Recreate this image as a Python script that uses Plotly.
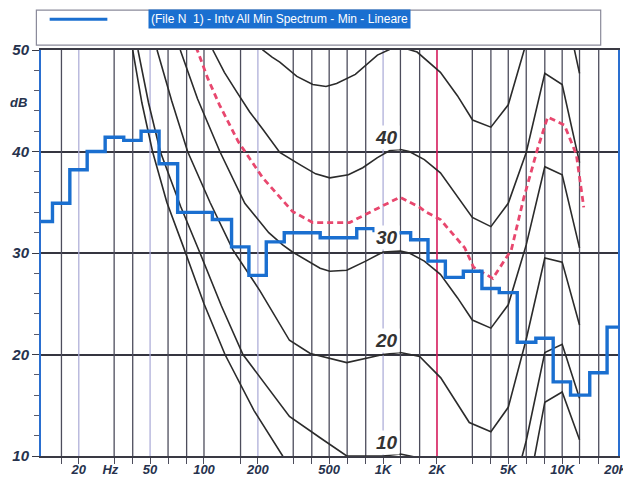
import math
import plotly.graph_objects as go

# ---------------- data ----------------
bands = [12.5, 16, 20, 25, 31.5, 40, 50, 63, 80, 100, 125, 160, 200, 250, 315, 400, 500,
         630, 800, 1000, 1250, 1600, 2000, 2500, 3150, 4000, 5000, 6300, 8000, 10000,
         12500, 16000, 20000]
spectrum_min = [33.1, 34.9, 38.2, 40.0, 41.4, 41.1, 42.0, 38.8, 34.0, 34.0, 33.3, 30.6, 27.8,
                31.1, 32.0, 32.0, 31.5, 31.5, 32.4, 32.2, 32.0, 31.3, 29.2, 27.6, 28.2, 26.5,
                26.1, 21.2, 21.6, 17.3, 16.0, 18.2, 22.7]

curve50_f = [190, 213, 240, 265, 330, 405, 480, 550, 700, 930, 1200, 1550, 2090, 2600, 3160,
             4000, 5000, 6300, 8000, 10000, 12500]
curve50_db = [51.6, 50.0, 49.3, 48.8, 47.4, 46.6, 46.4, 46.7, 47.6, 49.5, 50.4, 49.8, 47.8,
              45.5, 43.1, 42.4, 44.6, 50.5, 57.0, 55.6, 47.7]

curve40_f = [112, 130, 152, 180, 213, 265, 343, 420, 504, 640, 770, 930, 1090, 1250, 1400,
             1700, 2090, 2600, 3150, 4000, 5000, 6300, 8000, 10000, 12500]
curve40_db = [50.0, 47.8, 45.9, 43.9, 42.2, 39.9, 38.7, 37.8, 37.4, 37.7, 38.4, 39.4, 40.1,
              40.2, 40.0, 39.2, 37.9, 35.6, 33.5, 32.6, 34.9, 39.9, 47.7, 46.6, 38.9]

curve30_f = [73.7, 92, 122.6, 169, 230, 275, 312, 445, 504, 627, 800, 1000, 1250, 1400, 1700,
             2090, 2600, 3150, 4000, 5000, 6300, 8000, 10000, 12500]
curve30_db = [50.0, 45.2, 40.0, 34.9, 32.0, 30.8, 30.1, 28.5, 28.2, 28.3, 29.2, 30.1, 30.2,
              30.0, 29.2, 27.9, 25.6, 23.4, 22.6, 24.9, 30.8, 38.5, 37.7, 30.5]

curve20_f = [54.7, 66, 81, 108, 145, 205, 300, 392, 627, 1000, 1250, 1600, 2100, 3030, 4000,
             5000, 6300, 8000, 10000, 12500]
curve20_db = [50.0, 45.0, 40.0, 35.0, 30.3, 26.3, 21.4, 20.1, 19.2, 20.0, 20.2, 19.8, 17.7,
              13.3, 12.4, 14.8, 21.5, 29.5, 29.1, 22.9]

curve10_f = [42.8, 49, 57, 74, 95, 125, 165, 300, 445, 627, 1000, 1250, 1600, 2100, 3000,
             4000, 5000, 6300, 8000, 10000, 12500]
curve10_db = [50.0, 44.8, 40.0, 34.6, 30.0, 24.8, 20.0, 13.9, 11.8, 10.0, 10.0, 10.2, 9.8,
              7.7, 3.3, 2.4, 4.8, 11.5, 20.2, 21.0, 15.7]

curve0_f = [40, 45, 51.6, 62, 76, 100, 131, 190, 275, 400, 627, 1000, 2000, 4000, 5000, 6300,
            8000, 10000, 12500]
curve0_db = [50.0, 44.8, 40.0, 35.0, 30.8, 25.0, 20.0, 14.5, 10.0, 6.0, 0.0, 0.0, -2.0, -7.6,
             -5.2, 5.6, 15.3, 16.3, 11.6]

limit_f = [90, 92.6, 105, 122, 155, 213, 312, 405, 650, 880, 1240, 1600, 1750, 2090, 2860,
           3200, 4100, 5200, 6100, 7300, 8300, 10300, 11100, 12000, 13200]
limit_db = [50.3, 49.8, 47.2, 44.6, 41.0, 37.4, 34.1, 33.0, 33.0, 34.2, 35.5, 34.5, 34.0, 33.3,
            30.5, 28.6, 27.5, 30.3, 35.4, 40.3, 43.4, 42.6, 41.1, 39.7, 34.5]

curve_labels = ["40", "30", "20", "10"]
curve_label_db = [41.4, 31.5, 21.4, 11.3]
curve_label_f = 1050

grid_dark = [16, 31.5, 40, 63, 80, 100, 160, 315, 400, 500, 630, 800, 1250, 1600, 3150,
             4000, 5000, 6300, 8000, 10000, 12500, 16000]
grid_light = [20, 50, 200, 1000]
grid_red = [2000]

tick_vals = [20, 30, 50, 100, 200, 500, 1000, 2000, 5000, 10000, 20000]
tick_text = ["20", "Hz", "50", "100", "200", "500", "1K", "2K", "5K", "10K", "20K"]
y_ticks = [10, 20, 30, 40, 50]

legend_text = "(File N  1) - Intv All Min Spectrum - Min - Lineare"

# ---------------- figure ----------------
fig = go.Figure()


def vlines(freqs):
    xs, ys = [], []
    for f in freqs:
        xs += [f, f, None]
        ys += [10, 50, None]
    return xs, ys


for freqs, col, w in [(grid_light, "#a9a9d6", 1.2), (grid_dark, "#4d4d5c", 1.3),
                      (grid_red, "#d61a5c", 1.6)]:
    xs, ys = vlines(freqs)
    fig.add_trace(go.Scatter(x=xs, y=ys, mode="lines", line=dict(color=col, width=w),
                             hoverinfo="skip", showlegend=False))

for fx, fy in [(curve50_f, curve50_db), (curve40_f, curve40_db), (curve30_f, curve30_db),
               (curve20_f, curve20_db), (curve10_f, curve10_db), (curve0_f, curve0_db)]:
    fig.add_trace(go.Scatter(x=fx, y=fy, mode="lines",
                             line=dict(color="#2b2b2b", width=1.6),
                             hoverinfo="skip", showlegend=False))

fig.add_trace(go.Scatter(x=limit_f, y=limit_db, mode="lines",
                         line=dict(color="#e8476e", width=2.8, dash="6px,4px"),
                         hoverinfo="skip", showlegend=False))

# step spectrum: each band spans its 1/3-octave edges
step_x = [f * 2 ** (-1 / 6) for f in bands] + [bands[-1] * 2 ** (1 / 6)]
step_y = spectrum_min + [spectrum_min[-1]]
fig.add_trace(go.Scatter(x=step_x, y=step_y, mode="lines", line_shape="hv",
                         line=dict(color="#1a6fd0", width=3.4),
                         name=legend_text, showlegend=False))

annotations = []
for t, yv in zip(curve_labels, curve_label_db):
    annotations.append(dict(x=math.log10(curve_label_f), y=yv, xref="x", yref="y", text=t,
                            showarrow=False, bgcolor="white",
                            font=dict(family="Liberation Sans, Arial", size=19, color="#333333",
                                      weight="bold", style="italic")))
annotations.append(dict(x=-0.058, y=0.893, xref="paper", yref="paper", text="dB",
                        showarrow=False,
                        font=dict(family="Liberation Sans, Arial", size=13, color="#26324d",
                                  weight="bold", style="italic")))
annotations.append(dict(x=0.185, y=1.076, xref="paper", yref="paper", text=legend_text,
                        showarrow=False, xanchor="left", yanchor="middle", bgcolor="#1a6fd0",
                        borderpad=2,
                        font=dict(family="Liberation Sans, Arial", size=12, color="white")))

shapes = [
    dict(type="rect", xref="paper", yref="paper", x0=-0.008, x1=0.97, y0=1.012, y1=1.098,
         line=dict(color="#8a8a9a", width=1.2), fillcolor="rgba(0,0,0,0)"),
    dict(type="line", xref="paper", yref="paper", x0=0.015, x1=0.115, y0=1.076, y1=1.076,
         line=dict(color="#1a6fd0", width=3)),
]

# the page body adds an 8px offset, so the figure is sized to fill the remaining window
fig.update_layout(
    width=623, height=478,
    margin=dict(l=33, r=13, t=42, b=30, autoexpand=False),
    paper_bgcolor="white", plot_bgcolor="white",
    showlegend=False,
    annotations=annotations, shapes=shapes,
    xaxis=dict(type="log", range=[math.log10(12.3), math.log10(20500)],
               tickmode="array", tickvals=tick_vals, ticktext=tick_text, ticks="",
               showgrid=False, zeroline=False, automargin=False,
               showline=True, linecolor="#3a3a44", linewidth=2, mirror=True,
               tickfont=dict(family="Liberation Sans, Arial", size=13, color="#26324d",
                             weight="bold", style="italic"),
               minor=dict(tickmode="array", tickvals=grid_dark + grid_light + grid_red,
                          ticks="outside", ticklen=6, tickcolor="#4d4d5c", showgrid=False)),
    yaxis=dict(range=[10, 50], tickmode="array", tickvals=y_ticks,
               ticks="outside", ticklen=7, tickcolor="#3a3a44", automargin=False,
               showgrid=True, gridcolor="#353540", gridwidth=2, zeroline=False,
               showline=True, linecolor="#2a6fd0", linewidth=2, mirror=True,
               tickfont=dict(family="Liberation Sans, Arial", size=15, color="#26324d",
                             weight="bold", style="italic"),
               minor=dict(dtick=2, ticks="outside", ticklen=5, tickcolor="#5a5a6a",
                          showgrid=False)),
)

fig.write_html("out.html")
